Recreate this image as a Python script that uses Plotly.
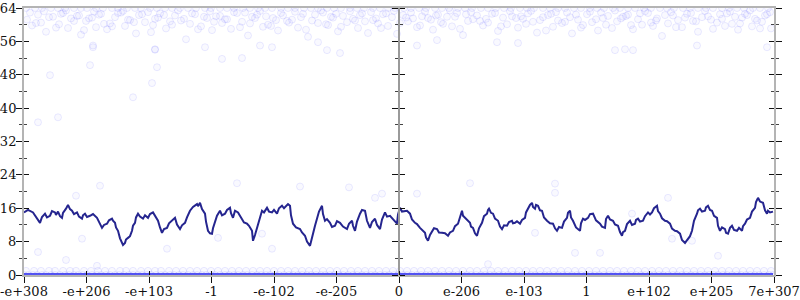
import plotly.graph_objects as go

# ---------------- data ----------------
tick_labels = ["-e+308", "-e+206", "-e+103", "-1", "-e-102", "-e-205", "0",
               "e-206", "e-103", "1", "e+102", "e+205", "7e+307"]
x_span = 750  # number of position buckets across the axis

line_pos = [0,4,9,11,13,14,16,18,21,23,26,28,31,32,34,36,38,39,41,42,44,46,48,50,53,55,58,59,61,63,66,69,73,75,78,80,83,85,88,89,
            91,92,94,96,98,99,101,102,104,106,108,109,111,112,114,116,119,121,124,126,129,131,134,136,138,140,143,145,148,149,
            151,153,156,158,161,163,166,169,173,174,176,178,181,182,184,186,188,189,191,193,196,198,201,203,206,207,209,211,214,216,
            218,220,223,225,228,229,231,233,235,238,240,243,245,248,250,253,255,258,260,263,264,266,267,269,272,276,278,281,283,286,
            287,289,291,293,295,298,299,301,303,306,308,311,313,316,319,323,325,328,329,331,333,336,338,341,343,346,348,351,353,356,
            358,361,363,366,369,373,374,376,378,381,383,386,388,391,393,396,398,401,402,404,406,408,410,413,415,418,421,424,426,429,
            431,434,436,438,439,441,443,446,447,449,451,453,455,458,460,463,464,465,467,469,471,474,476,478,480,483,485,488,489,491,
            493,496,498,501,502,504,506,508,509,511,512,514,516,518,520,523,526,529,531,533,535,538,540,543,544,546,547,549,552,556,
            557,559,561,564,566,569,572,576,578,581,582,584,586,589,591,594,596,598,599,601,603,606,608,611,612,614,616,619,621,624,
            626,628,630,633,634,636,638,641,643,646,648,651,653,656,658,661,662,664,666,668,670,673,674,676,678,681,682,684,686,688,
            690,693,694,696,698,701,702,704,706,708,710,713,715,718,719,721,723,726,728,731,732,734,736,739,741,743,744,746,749]
line_val = [15.0,15.6,15.0,14.2,13.7,13.1,12.5,13.9,14.7,13.8,14.2,15.3,15.0,14.4,15.2,14.1,13.7,14.9,15.4,15.9,16.8,15.8,15.4,14.6,15.0,14.0,13.5,14.3,14.7,13.9,
            14.2,14.6,13.7,12.6,11.3,12.0,12.3,13.1,13.5,13.0,12.5,11.4,10.6,8.8,7.5,7.2,7.7,8.5,8.9,9.3,10.6,11.8,12.5,13.8,14.7,14.0,13.5,14.3,13.7,14.6,
            15.0,14.1,13.0,11.4,10.1,11.0,11.3,12.4,13.0,13.4,13.7,12.1,11.0,11.9,12.5,13.8,15.4,16.3,17.0,16.5,17.3,15.8,14.7,12.8,10.6,10.0,9.9,11.2,12.5,14.2,
            15.4,14.3,14.7,15.6,16.1,14.8,13.7,15.4,15.0,14.1,13.5,12.6,12.3,11.8,10.6,8.2,9.6,11.3,13.5,15.4,15.0,16.1,15.2,15.0,15.6,14.7,16.0,16.6,16.0,16.6,
            17.0,16.6,14.3,12.3,11.4,11.0,10.2,9.4,8.0,7.0,8.2,9.9,11.8,13.5,15.2,16.6,14.6,13.0,13.4,12.5,11.5,11.8,12.9,12.5,11.6,11.0,12.3,13.0,11.8,10.6,
            12.8,14.7,15.6,15.4,13.0,11.3,12.7,13.5,12.0,11.0,13.3,15.0,14.0,14.2,13.4,12.3,14.5,16.1,15.2,15.4,15.4,14.7,13.3,12.5,12.2,11.3,10.9,10.1,9.0,8.2,
            9.6,10.6,11.2,11.0,10.2,10.1,10.0,9.4,10.2,10.6,11.7,12.3,13.9,15.4,14.2,13.7,13.3,12.5,11.6,11.3,10.0,9.4,11.2,12.5,14.1,14.7,15.6,15.9,14.9,14.7,
            13.5,13.0,11.6,11.0,11.9,11.8,12.7,13.0,12.4,12.5,12.9,12.3,13.2,13.7,15.0,15.9,16.8,17.3,16.3,15.9,16.8,16.6,15.5,15.4,13.8,13.0,12.4,12.3,11.2,10.6,
            11.5,11.3,12.8,13.7,14.9,15.4,13.8,13.0,11.4,10.6,12.4,13.5,13.2,13.7,14.6,14.7,13.1,12.3,11.6,11.3,13.4,14.2,13.3,13.0,12.1,11.8,10.3,9.4,10.3,10.6,
            12.2,13.0,12.0,12.3,13.2,13.5,12.8,13.0,14.1,15.0,14.5,15.0,16.0,16.6,15.3,14.7,13.6,13.0,12.9,12.3,11.1,10.6,10.5,9.9,8.4,7.7,8.0,8.7,9.3,10.6,
            13.0,14.7,15.5,15.9,15.2,15.4,16.2,16.6,15.6,15.4,14.2,13.7,11.8,10.6,11.4,11.0,10.1,9.9,11.3,11.8,10.8,10.6,11.3,10.6,11.7,12.3,13.3,13.7,15.2,16.1,
            17.5,18.5,17.6,17.3,15.5,14.7,15.4,15.0,15.2]

top_row_pos = [2, 11, 18, 27, 34, 41, 50, 57, 63, 72, 79, 88, 94, 103, 111, 117, 126, 133, 141, 148,
               156, 164, 172, 181, 187, 196, 203, 210, 219, 226, 234, 241, 248, 257, 264, 271, 280, 287, 294, 303,
               310, 317, 326, 333, 340, 349, 356, 364, 371, 380, 387, 395, 402, 411, 418, 425, 434, 441, 448, 457,
               464, 472, 480, 487, 496, 503, 510, 519, 526, 534, 541, 550, 557, 566, 573, 580, 589, 596, 604, 611,
               620, 627, 636, 643, 650, 659, 666, 674, 682, 689, 698, 705, 713, 720, 729, 736, 744]
top_row_val = 64

band_pos = [3, 8, 14, 17, 22, 29, 35, 39, 44, 47, 53, 57, 62, 68, 72, 77, 83, 86, 91, 97,
            101, 106, 112, 115, 121, 127, 131, 136, 142, 146, 151, 157, 162, 166, 171, 177, 183, 188, 192, 198,
            203, 207, 213, 218, 224, 228, 233, 239, 244, 249, 254, 259, 263, 268, 274, 279, 284, 288, 294, 299,
            304, 309, 314, 319, 323, 329, 334, 338, 344, 349, 354, 359, 364, 368, 373, 379, 384, 389, 393, 398,
            404, 409, 414, 419, 423, 428, 433, 439, 444, 449, 453, 459, 464, 468, 474, 479, 483, 488, 494, 499,
            504, 509, 513, 519, 524, 529, 534, 538, 543, 548, 554, 559, 563, 568, 574, 579, 584, 588, 593, 599,
            604, 609, 614, 618, 624, 629, 633, 638, 644, 649, 654, 658, 663, 669, 674, 678, 684, 689, 693, 698,
            703, 708, 714, 718, 723, 728, 733, 738, 743, 747]
band_val = [61.2, 59.8, 62.4, 60.5, 58.3, 61.9, 60.1, 62.8, 59.2, 61.5, 62.1, 57.6, 60.9, 61.7, 59.4, 62.6, 58.9, 60.3, 61.8, 62.9,
            59.7, 61.1, 57.9, 62.3, 60.6, 58.2, 61.4, 62.7, 59.1, 60.8, 62.2, 61.0, 56.5, 60.2, 62.5, 59.6, 61.6, 58.7, 62.0, 60.4,
            61.3, 59.0, 62.8, 60.7, 57.4, 61.9, 62.4, 59.5, 60.0, 61.6, 58.6, 62.2, 60.9, 61.2, 59.3, 62.6, 57.1, 61.0, 60.4, 62.9,
            59.9, 61.7, 58.4, 62.1, 60.6, 61.4, 59.2, 62.7, 58.0, 61.1, 60.3, 62.5, 59.7, 61.8, 57.8, 62.3, 60.8, 61.5, 59.4, 62.0,
            61.6, 58.8, 62.4, 60.2, 61.9, 59.6, 62.8, 57.5, 60.9, 61.3, 62.2, 59.8, 60.5, 62.6, 58.5, 61.7, 60.1, 62.0, 59.3, 61.4,
            62.7, 60.7, 58.1, 61.8, 62.3, 59.5, 61.0, 60.4, 62.9, 57.9, 61.2, 59.9, 62.5, 60.6, 58.6, 61.6, 62.1, 59.2, 60.8, 61.9,
            62.4, 58.9, 61.3, 60.0, 62.8, 59.7, 61.5, 57.3, 60.3, 62.2, 61.1, 59.4, 62.6, 60.9, 58.3, 61.8, 62.0, 59.0, 60.5, 61.4,
            62.7, 60.2, 58.8, 61.7, 62.3, 59.6, 61.0, 60.7, 62.5, 59.1]

band2_pos = [6, 12, 20, 25, 32, 37, 42, 50, 55, 60, 65, 70, 75, 80, 88, 94, 99, 104, 110, 118,
             124, 129, 134, 140, 148, 154, 160, 168, 174, 180, 186, 190, 196, 201, 210, 216, 221, 226, 231, 236,
             242, 247, 252, 257, 265, 271, 277, 282, 291, 297, 302, 307, 312, 317, 326, 331, 336, 341, 347, 352,
             357, 362, 370, 376, 382, 387, 396, 401, 407, 412, 417, 426, 431, 436, 442, 447, 456, 462, 471, 477,
             486, 492, 497, 502, 507, 516, 522, 527, 532, 541, 546, 552, 557, 566, 572, 577, 582, 591, 597, 602,
             607, 616, 621, 627, 632, 641, 647, 652, 661, 667, 672, 681, 687, 696, 701, 706, 711, 716, 721, 726,
             731, 736, 741, 746]
band2_val = [62.9, 60.4, 63.2, 61.8, 59.3, 62.6, 63.4, 60.9, 62.2, 58.7, 61.5, 63.1, 62.4, 60.2, 59.6, 62.8, 63.3, 61.2, 60.6, 62.5,
             63.0, 59.9, 61.7, 62.3, 60.0, 63.4, 61.4, 62.7, 58.9, 61.9, 63.2, 60.7, 62.1, 61.3, 63.0, 59.4, 62.9, 60.3, 61.6, 63.3,
             62.0, 59.7, 61.1, 62.8, 60.5, 63.1, 61.8, 58.8, 62.4, 63.4, 60.1, 61.9, 62.6, 59.5, 63.2, 61.0, 62.3, 60.8, 63.0, 61.5,
             59.2, 62.7, 63.3, 60.4, 61.7, 62.9, 59.8, 63.1, 61.2, 62.2, 60.6, 63.4, 61.9, 59.0, 62.5, 63.0, 60.9, 61.4, 62.8, 59.6,
             63.2, 61.6, 62.0, 60.2, 63.3, 61.1, 58.6, 62.6, 63.0, 60.7, 61.8, 62.4, 59.3, 63.1, 61.3, 62.9, 60.0, 63.4, 61.5, 62.1,
             59.9, 62.7, 63.2, 60.5, 61.0, 62.3, 63.0, 59.4, 61.7, 62.8, 60.8, 63.3, 61.2, 62.5, 59.7, 63.1, 61.9, 60.3, 62.6, 63.4,
             61.4, 59.1, 62.2, 63.0]

sparse_pos = [26, 66, 69, 131, 133, 128, 109, 14, 34, 76, 52, 58, 14, 42, 73, 143, 276, 325, 351, 358,
              238, 194, 248, 213, 446, 531, 531, 393, 511, 464, 551, 644, 608, 648, 668, 694, 576, 198, 236, 248,
              294, 303, 316, 218, 393, 413, 473, 494, 591, 601, 609, 673, 743, 69, 131, 181]
sparse_val = [47.9, 50.3, 55.0, 54.0, 49.8, 46.0, 42.6, 36.6, 37.8, 21.4, 19.0, 8.7, 5.5, 3.6, 2.2, 6.3, 21.2, 21.0, 18.5, 19.5,
              9.9, 8.9, 6.3, 22.0, 22.0, 21.9, 19.7, 19.5, 10.1, 2.6, 5.3, 18.5, 14.7, 8.7, 8.2, 4.6, 5.3, 51.8, 55.0, 54.6,
              55.8, 53.9, 53.2, 52.0, 55.0, 56.3, 55.8, 55.6, 53.9, 54.1, 53.9, 55.0, 54.6, 54.6, 54.1, 54.6]

row1_pos = [2, 10, 17, 25, 31, 39, 46, 52, 60, 67, 74, 81, 88, 96, 102, 109, 117, 124, 131, 137,
            145, 152, 159, 166, 173, 180, 187, 194, 201, 208, 215, 222, 229, 236, 243, 250, 257, 264, 271, 278,
            285, 292, 299, 306, 313, 320, 327, 334, 341, 348, 355, 362, 369, 376, 383, 390, 397, 404, 411, 418,
            425, 432, 439, 446, 453, 460, 467, 474, 481, 488, 495, 502, 509, 516, 523, 530, 537, 544, 551, 558,
            565, 572, 579, 586, 593, 600, 607, 614, 621, 628, 635, 642, 649, 656, 663, 670, 677, 684, 691, 698,
            705, 712, 719, 726, 733, 740, 747]
row1_val = 1

row0_pos = [0, 4, 9, 13, 18, 22, 27, 31, 36, 41, 45, 50, 54, 59, 63, 68, 73, 77, 82, 86,
            91, 95, 100, 105, 109, 114, 118, 123, 127, 132, 137, 141, 146, 150, 155, 159, 164, 169, 173, 178,
            182, 187, 191, 196, 201, 205, 210, 214, 219, 223, 228, 233, 237, 242, 246, 251, 255, 260, 265, 269,
            274, 278, 283, 287, 292, 297, 301, 306, 310, 315, 319, 324, 329, 333, 338, 342, 347, 351, 356, 361,
            365, 370, 374, 379, 383, 388, 393, 397, 402, 406, 411, 415, 420, 425, 429, 434, 438, 443, 447, 452,
            457, 461, 466, 470, 475, 479, 484, 489, 493, 498, 502, 507, 511, 516, 521, 525, 530, 534, 539, 543,
            548, 553, 557, 562, 566, 571, 575, 580, 585, 589, 594, 598, 603, 607, 612, 617, 621, 626, 630, 635,
            639, 644, 649, 653, 658, 662, 667, 671, 676, 681, 685, 690, 694, 699, 703, 708, 713, 717, 722, 726,
            731, 735, 740, 745, 749]
row0_val = 0

y_max = 64
y_major = 8
y_minor = 4

# ---------------- figure ----------------
n_line = min(len(line_pos), len(line_val))
pt_x = top_row_pos + band_pos + band2_pos + sparse_pos + row1_pos + row0_pos
pt_y = ([top_row_val] * len(top_row_pos) + band_val + band2_val + sparse_val
        + [row1_val] * len(row1_pos) + [row0_val] * len(row0_pos))

marker = dict(symbol="circle", size=7, color="rgba(110,110,255,0.04)",
              line=dict(color="rgba(70,70,255,0.11)", width=1))

fig = go.Figure()
# dense run of zero values merges into a solid band along the bottom edge
fig.add_trace(go.Scatter(x=row0_pos, y=[row0_val] * len(row0_pos), mode="lines",
                         line=dict(color="rgba(55,55,240,0.85)", width=4),
                         hoverinfo="skip", showlegend=False))
fig.add_trace(go.Scatter(x=pt_x, y=pt_y, mode="markers", marker=marker,
                         hoverinfo="skip", showlegend=False))
fig.add_trace(go.Scatter(x=line_pos[:n_line], y=line_val[:n_line], mode="lines",
                         line=dict(color="#25258f", width=2), showlegend=False))
# invisible anchors for helper axes
fig.add_trace(go.Scatter(x=[0], y=[0], xaxis="x2", yaxis="y2", mode="markers",
                         marker=dict(opacity=0), hoverinfo="skip", showlegend=False))
fig.add_trace(go.Scatter(x=[0], y=[0], xaxis="x", yaxis="y3", mode="markers",
                         marker=dict(opacity=0), hoverinfo="skip", showlegend=False))
fig.add_trace(go.Scatter(x=[0], y=[0], xaxis="x", yaxis="y4", mode="markers",
                         marker=dict(opacity=0), hoverinfo="skip", showlegend=False))

tickvals = [i * x_span / (len(tick_labels) - 1) for i in range(len(tick_labels))]
font = dict(family="DejaVu Serif", size=13, color="#111")
axis_grey = "#b4b4b4"

ycommon = dict(range=[0, y_max], dtick=y_major, tick0=0, showgrid=False, zeroline=False,
               tickcolor="#111", tickwidth=1, fixedrange=True, automargin=False)

fig.update_layout(
    width=800, height=300,
    margin=dict(l=24, r=26, t=8, b=25),
    paper_bgcolor="white", plot_bgcolor="white",
    font=font,
    xaxis=dict(range=[0, x_span], tickvals=tickvals, ticktext=tick_labels,
               ticks="outside", ticklen=6, tickcolor="#111", tickwidth=1,
               showline=True, linecolor=axis_grey, linewidth=2, mirror=True,
               showgrid=False, zeroline=False, layer="below traces", tickfont=font,
               automargin=False, ticklabelstandoff=-3),
    xaxis2=dict(range=[0, x_span], tickvals=tickvals, overlaying="x", matches="x",
                ticks="inside", ticklen=4, tickcolor="#111", tickwidth=1,
                showticklabels=False, showline=False, showgrid=False, zeroline=False,
                automargin=False),
    yaxis=dict(**ycommon, ticks="outside", ticklen=6, mirror="ticks",
               showline=True, linecolor=axis_grey, linewidth=2, layer="below traces",
               tickfont=font, ticklabelstandoff=-3,
               minor=dict(dtick=y_minor, ticks="outside", ticklen=3, tickcolor="#444", showgrid=False)),
    yaxis2=dict(**ycommon, overlaying="y", ticks="inside", ticklen=5, mirror="ticks",
                showticklabels=False, showline=False, anchor="x2",
                minor=dict(dtick=y_minor, ticks="inside", ticklen=3, tickcolor="#444", showgrid=False)),
    yaxis3=dict(**ycommon, overlaying="y", anchor="free", position=0.5, side="left",
                ticks="outside", ticklen=6, showticklabels=False,
                showline=True, linecolor="#9a9a9a", linewidth=1.5,
                minor=dict(dtick=y_minor, ticks="outside", ticklen=3, tickcolor="#444", showgrid=False)),
    yaxis4=dict(**ycommon, overlaying="y", anchor="free", position=0.5, side="right",
                ticks="outside", ticklen=5, showticklabels=False, showline=False,
                minor=dict(dtick=y_minor, ticks="outside", ticklen=3, tickcolor="#444", showgrid=False)),
)

fig.write_html("out.html")
